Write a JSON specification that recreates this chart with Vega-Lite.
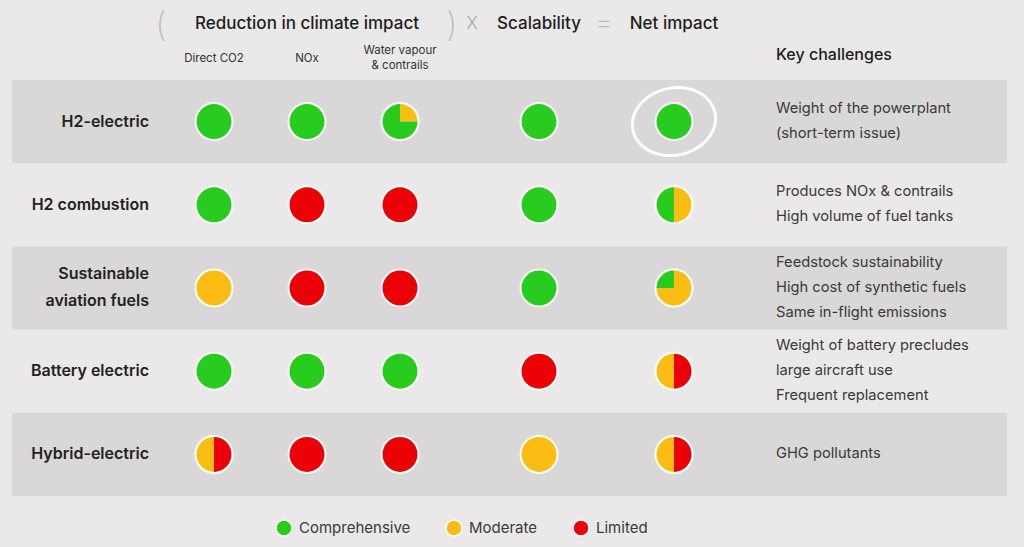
{
  "$schema": "https://vega.github.io/schema/vega-lite/v6.json",
  "width": 1024,
  "height": 547,
  "autosize": {"type": "none"},
  "padding": 0,
  "background": "#eae8e8",
  "config": {
    "view": {"stroke": null},
    "font": "Inter",
    "legend": {
      "orient": "none",
      "legendX": 275,
      "legendY": 519,
      "direction": "horizontal",
      "symbolType": "circle",
      "symbolSize": 256,
      "symbolStrokeColor": "#ffffff",
      "symbolStrokeWidth": 1.5,
      "symbolOpacity": 1,
      "labelFontSize": 15,
      "labelColor": "#3a3a3a",
      "labelFont": "Inter",
      "labelOffset": 6,
      "columnPadding": 32,
      "padding": 0
    }
  },
  "datasets": {
    "bands": [
      {"tech": "H2-electric"},
      {"tech": "Sustainable aviation fuels"},
      {"tech": "Hybrid-electric"}
    ],
    "techs": [
      {"tech": "H2-electric", "label": "H2-electric", "challenges": "Weight of the powerplant\n(short-term issue)"},
      {"tech": "H2 combustion", "label": "H2 combustion", "challenges": "Produces NOx & contrails\nHigh volume of fuel tanks"},
      {"tech": "Sustainable aviation fuels", "label": "Sustainable\naviation fuels", "challenges": "Feedstock sustainability\nHigh cost of synthetic fuels\nSame in-flight emissions"},
      {"tech": "Battery electric", "label": "Battery electric", "challenges": "Weight of battery precludes\nlarge aircraft use\nFrequent replacement"},
      {"tech": "Hybrid-electric", "label": "Hybrid-electric", "challenges": "GHG pollutants"}
    ],
    "cells": [
      {"tech": "H2-electric", "col": 1, "level": "Comprehensive", "start": 0, "end": 1},
      {"tech": "H2-electric", "col": 2, "level": "Comprehensive", "start": 0, "end": 1},
      {"tech": "H2-electric", "col": 3, "level": "Moderate", "start": 0, "end": 0.25},
      {"tech": "H2-electric", "col": 3, "level": "Comprehensive", "start": 0.25, "end": 1},
      {"tech": "H2-electric", "col": 5, "level": "Comprehensive", "start": 0, "end": 1},
      {"tech": "H2-electric", "col": 7, "level": "Comprehensive", "start": 0, "end": 1},
      {"tech": "H2 combustion", "col": 1, "level": "Comprehensive", "start": 0, "end": 1},
      {"tech": "H2 combustion", "col": 2, "level": "Limited", "start": 0, "end": 1},
      {"tech": "H2 combustion", "col": 3, "level": "Limited", "start": 0, "end": 1},
      {"tech": "H2 combustion", "col": 5, "level": "Comprehensive", "start": 0, "end": 1},
      {"tech": "H2 combustion", "col": 7, "level": "Moderate", "start": 0, "end": 0.5},
      {"tech": "H2 combustion", "col": 7, "level": "Comprehensive", "start": 0.5, "end": 1},
      {"tech": "Sustainable aviation fuels", "col": 1, "level": "Moderate", "start": 0, "end": 1},
      {"tech": "Sustainable aviation fuels", "col": 2, "level": "Limited", "start": 0, "end": 1},
      {"tech": "Sustainable aviation fuels", "col": 3, "level": "Limited", "start": 0, "end": 1},
      {"tech": "Sustainable aviation fuels", "col": 5, "level": "Comprehensive", "start": 0, "end": 1},
      {"tech": "Sustainable aviation fuels", "col": 7, "level": "Moderate", "start": 0, "end": 0.75},
      {"tech": "Sustainable aviation fuels", "col": 7, "level": "Comprehensive", "start": 0.75, "end": 1},
      {"tech": "Battery electric", "col": 1, "level": "Comprehensive", "start": 0, "end": 1},
      {"tech": "Battery electric", "col": 2, "level": "Comprehensive", "start": 0, "end": 1},
      {"tech": "Battery electric", "col": 3, "level": "Comprehensive", "start": 0, "end": 1},
      {"tech": "Battery electric", "col": 5, "level": "Limited", "start": 0, "end": 1},
      {"tech": "Battery electric", "col": 7, "level": "Limited", "start": 0, "end": 0.5},
      {"tech": "Battery electric", "col": 7, "level": "Moderate", "start": 0.5, "end": 1},
      {"tech": "Hybrid-electric", "col": 1, "level": "Limited", "start": 0, "end": 0.5},
      {"tech": "Hybrid-electric", "col": 1, "level": "Moderate", "start": 0.5, "end": 1},
      {"tech": "Hybrid-electric", "col": 2, "level": "Limited", "start": 0, "end": 1},
      {"tech": "Hybrid-electric", "col": 3, "level": "Limited", "start": 0, "end": 1},
      {"tech": "Hybrid-electric", "col": 5, "level": "Moderate", "start": 0, "end": 1},
      {"tech": "Hybrid-electric", "col": 7, "level": "Limited", "start": 0, "end": 0.5},
      {"tech": "Hybrid-electric", "col": 7, "level": "Moderate", "start": 0.5, "end": 1}
    ],
    "highlight": [{"tech": "H2-electric", "col": 7}],
    "titles": [
      {"text": "Reduction in climate impact", "col": 2, "tier": "title"},
      {"text": "Scalability", "col": 5, "tier": "title"},
      {"text": "Net impact", "col": 7, "tier": "title"}
    ],
    "ops": [
      {"text": "X", "col": 4, "tier": "title", "op": "times"},
      {"text": "=", "col": 6, "tier": "title", "op": "equals"}
    ],
    "parens": [
      {"text": "(", "col": 1, "tier": "title", "side": "open"},
      {"text": ")", "col": 3, "tier": "title", "side": "close"}
    ],
    "subs": [
      {"text": "Direct CO2", "col": 1, "tier": "sub"},
      {"text": "NOx", "col": 2, "tier": "sub"},
      {"text": "Water vapour\n& contrails", "col": 3, "tier": "sub"}
    ],
    "keyhead": [{"text": "Key challenges", "col": 8, "tier": "sub"}]
  },
  "layer": [
    {
      "layer": [
        {
          "data": {"name": "bands"},
          "mark": {"type": "rect", "color": "#d9d7d7"},
          "encoding": {
            "x": {"datum": -1, "type": "quantitative", "axis": null, "scale": {"type": "linear", "domain": [-1, 0, 1, 2, 3, 4, 5, 6, 7, 8, 9], "range": [12, 149, 214, 307, 400, 472, 539, 604, 674, 776, 1007], "nice": false, "zero": false}},
            "x2": {"datum": 9},
            "y": {"field": "tech", "type": "nominal", "axis": null, "sort": null, "scale": {"type": "band", "domain": ["H2-electric", "H2 combustion", "Sustainable aviation fuels", "Battery electric", "Hybrid-electric"], "range": [80, 496], "paddingInner": 0, "paddingOuter": 0}}
          }
        },
        {
          "data": {"name": "techs"},
          "transform": [{"filter": {"field": "tech", "oneOf": ["H2-electric", "H2 combustion", "Battery electric", "Hybrid-electric"]}}],
          "mark": {"type": "text", "align": "right", "baseline": "middle", "fontSize": 16, "fontWeight": 600, "color": "#222222", "lineBreak": "\n", "lineHeight": 27},
          "encoding": {
            "x": {"datum": 0, "type": "quantitative", "axis": null, "scale": {"type": "linear", "domain": [-1, 0, 1, 2, 3, 4, 5, 6, 7, 8, 9], "range": [12, 149, 214, 307, 400, 472, 539, 604, 674, 776, 1007], "nice": false, "zero": false}},
            "y": {"field": "tech", "type": "nominal", "axis": null, "sort": null, "scale": {"type": "band", "domain": ["H2-electric", "H2 combustion", "Sustainable aviation fuels", "Battery electric", "Hybrid-electric"], "range": [80, 496], "paddingInner": 0, "paddingOuter": 0}},
            "text": {"field": "label"}
          }
        },
        {
          "data": {"name": "techs"},
          "transform": [{"filter": {"field": "tech", "oneOf": ["Sustainable aviation fuels"]}}],
          "mark": {"type": "text", "align": "right", "baseline": "middle", "fontSize": 16, "fontWeight": 600, "color": "#222222", "lineBreak": "\n", "lineHeight": 27, "dy": -14},
          "encoding": {
            "x": {"datum": 0, "type": "quantitative", "axis": null, "scale": {"type": "linear", "domain": [-1, 0, 1, 2, 3, 4, 5, 6, 7, 8, 9], "range": [12, 149, 214, 307, 400, 472, 539, 604, 674, 776, 1007], "nice": false, "zero": false}},
            "y": {"field": "tech", "type": "nominal", "axis": null, "sort": null, "scale": {"type": "band", "domain": ["H2-electric", "H2 combustion", "Sustainable aviation fuels", "Battery electric", "Hybrid-electric"], "range": [80, 496], "paddingInner": 0, "paddingOuter": 0}},
            "text": {"field": "label"}
          }
        },
        {
          "data": {"name": "techs"},
          "transform": [{"filter": {"field": "tech", "oneOf": ["H2-electric", "H2 combustion"]}}],
          "mark": {"type": "text", "align": "left", "baseline": "middle", "fontSize": 14.7, "fontWeight": 400, "color": "#3a3a3a", "lineBreak": "\n", "lineHeight": 25, "dy": -13},
          "encoding": {
            "x": {"datum": 8, "type": "quantitative", "axis": null, "scale": {"type": "linear", "domain": [-1, 0, 1, 2, 3, 4, 5, 6, 7, 8, 9], "range": [12, 149, 214, 307, 400, 472, 539, 604, 674, 776, 1007], "nice": false, "zero": false}},
            "y": {"field": "tech", "type": "nominal", "axis": null, "sort": null, "scale": {"type": "band", "domain": ["H2-electric", "H2 combustion", "Sustainable aviation fuels", "Battery electric", "Hybrid-electric"], "range": [80, 496], "paddingInner": 0, "paddingOuter": 0}},
            "text": {"field": "challenges"}
          }
        },
        {
          "data": {"name": "techs"},
          "transform": [{"filter": {"field": "tech", "oneOf": ["Sustainable aviation fuels", "Battery electric"]}}],
          "mark": {"type": "text", "align": "left", "baseline": "middle", "fontSize": 14.7, "fontWeight": 400, "color": "#3a3a3a", "lineBreak": "\n", "lineHeight": 25, "dy": -25},
          "encoding": {
            "x": {"datum": 8, "type": "quantitative", "axis": null, "scale": {"type": "linear", "domain": [-1, 0, 1, 2, 3, 4, 5, 6, 7, 8, 9], "range": [12, 149, 214, 307, 400, 472, 539, 604, 674, 776, 1007], "nice": false, "zero": false}},
            "y": {"field": "tech", "type": "nominal", "axis": null, "sort": null, "scale": {"type": "band", "domain": ["H2-electric", "H2 combustion", "Sustainable aviation fuels", "Battery electric", "Hybrid-electric"], "range": [80, 496], "paddingInner": 0, "paddingOuter": 0}},
            "text": {"field": "challenges"}
          }
        },
        {
          "data": {"name": "techs"},
          "transform": [{"filter": {"field": "tech", "oneOf": ["Hybrid-electric"]}}],
          "mark": {"type": "text", "align": "left", "baseline": "middle", "fontSize": 14.7, "fontWeight": 400, "color": "#3a3a3a", "lineBreak": "\n", "lineHeight": 25},
          "encoding": {
            "x": {"datum": 8, "type": "quantitative", "axis": null, "scale": {"type": "linear", "domain": [-1, 0, 1, 2, 3, 4, 5, 6, 7, 8, 9], "range": [12, 149, 214, 307, 400, 472, 539, 604, 674, 776, 1007], "nice": false, "zero": false}},
            "y": {"field": "tech", "type": "nominal", "axis": null, "sort": null, "scale": {"type": "band", "domain": ["H2-electric", "H2 combustion", "Sustainable aviation fuels", "Battery electric", "Hybrid-electric"], "range": [80, 496], "paddingInner": 0, "paddingOuter": 0}},
            "text": {"field": "challenges"}
          }
        },
        {
          "data": {"name": "cells"},
          "mark": {"type": "point", "shape": "circle", "filled": true, "color": "#fbfff8", "opacity": 1, "size": 1521},
          "encoding": {
            "x": {"field": "col", "type": "quantitative", "axis": null, "scale": {"type": "linear", "domain": [-1, 0, 1, 2, 3, 4, 5, 6, 7, 8, 9], "range": [12, 149, 214, 307, 400, 472, 539, 604, 674, 776, 1007], "nice": false, "zero": false}},
            "y": {"field": "tech", "type": "nominal", "axis": null, "sort": null, "scale": {"type": "band", "domain": ["H2-electric", "H2 combustion", "Sustainable aviation fuels", "Battery electric", "Hybrid-electric"], "range": [80, 496], "paddingInner": 0, "paddingOuter": 0}}
          }
        },
        {
          "data": {"name": "cells"},
          "mark": {"type": "arc", "radius": 17.5, "stroke": null},
          "encoding": {
            "x": {"field": "col", "type": "quantitative", "stack": null, "axis": null, "scale": {"type": "linear", "domain": [-1, 0, 1, 2, 3, 4, 5, 6, 7, 8, 9], "range": [12, 149, 214, 307, 400, 472, 539, 604, 674, 776, 1007], "nice": false, "zero": false}},
            "y": {"field": "tech", "type": "nominal", "axis": null, "sort": null, "scale": {"type": "band", "domain": ["H2-electric", "H2 combustion", "Sustainable aviation fuels", "Battery electric", "Hybrid-electric"], "range": [80, 496], "paddingInner": 0, "paddingOuter": 0}},
            "theta": {"field": "start", "type": "quantitative", "stack": null, "scale": {"domain": [0, 1], "range": [0, 6.283185307], "zero": false, "nice": false}},
            "theta2": {"field": "end"},
            "color": {"field": "level", "type": "nominal", "title": null, "scale": {"domain": ["Comprehensive", "Moderate", "Limited"], "range": ["#27cc1f", "#fbbd14", "#ec0008"]}}
          }
        },
        {
          "data": {"name": "highlight"},
          "mark": {"type": "point", "shape": "M -0.976 -0.072 A 1 0.8 -12 0 1 0.934 -0.341 A 1 0.8 -12 1 1 -0.757 -0.466", "filled": false, "stroke": "#ffffff", "strokeWidth": 3, "strokeCap": "round", "opacity": 1, "size": 7056},
          "encoding": {
            "x": {"field": "col", "type": "quantitative", "axis": null, "scale": {"type": "linear", "domain": [-1, 0, 1, 2, 3, 4, 5, 6, 7, 8, 9], "range": [12, 149, 214, 307, 400, 472, 539, 604, 674, 776, 1007], "nice": false, "zero": false}},
            "y": {"field": "tech", "type": "nominal", "axis": null, "sort": null, "scale": {"type": "band", "domain": ["H2-electric", "H2 combustion", "Sustainable aviation fuels", "Battery electric", "Hybrid-electric"], "range": [80, 496], "paddingInner": 0, "paddingOuter": 0}}
          }
        }
      ]
    },
    {
      "layer": [
        {
          "data": {"name": "titles"},
          "mark": {"type": "text", "align": "center", "baseline": "middle", "fontSize": 17, "fontWeight": 500, "color": "#1e1e1e"},
          "encoding": {
            "x": {"field": "col", "type": "quantitative", "axis": null, "scale": {"type": "linear", "domain": [-1, 0, 1, 2, 3, 4, 5, 6, 7, 8, 9], "range": [12, 149, 214, 307, 400, 472, 539, 604, 674, 776, 1007], "nice": false, "zero": false}},
            "y": {"field": "tier", "type": "nominal", "axis": null, "sort": null, "scale": {"type": "point", "domain": ["title", "sub"], "range": [24, 59], "padding": 0}},
            "text": {"field": "text"}
          }
        },
        {
          "data": {"name": "ops"},
          "transform": [{"filter": {"field": "op", "equal": "times"}}],
          "mark": {"type": "text", "align": "center", "baseline": "middle", "fontSize": 17, "fontWeight": 300, "color": "#a9a9a9"},
          "encoding": {
            "x": {"field": "col", "type": "quantitative", "axis": null, "scale": {"type": "linear", "domain": [-1, 0, 1, 2, 3, 4, 5, 6, 7, 8, 9], "range": [12, 149, 214, 307, 400, 472, 539, 604, 674, 776, 1007], "nice": false, "zero": false}},
            "y": {"field": "tier", "type": "nominal", "axis": null, "sort": null, "scale": {"type": "point", "domain": ["title", "sub"], "range": [24, 59], "padding": 0}},
            "text": {"field": "text"}
          }
        },
        {
          "data": {"name": "ops"},
          "transform": [{"filter": {"field": "op", "equal": "equals"}}],
          "mark": {"type": "text", "align": "center", "baseline": "middle", "fontSize": 28, "fontWeight": 200, "color": "#bbbbbb"},
          "encoding": {
            "x": {"field": "col", "type": "quantitative", "axis": null, "scale": {"type": "linear", "domain": [-1, 0, 1, 2, 3, 4, 5, 6, 7, 8, 9], "range": [12, 149, 214, 307, 400, 472, 539, 604, 674, 776, 1007], "nice": false, "zero": false}},
            "y": {"field": "tier", "type": "nominal", "axis": null, "sort": null, "scale": {"type": "point", "domain": ["title", "sub"], "range": [24, 59], "padding": 0}},
            "text": {"field": "text"}
          }
        },
        {
          "data": {"name": "parens"},
          "transform": [{"filter": {"field": "side", "equal": "open"}}],
          "mark": {"type": "text", "align": "center", "baseline": "middle", "fontSize": 34, "fontWeight": 200, "color": "#bdbdbd", "dx": -53, "dy": 2},
          "encoding": {
            "x": {"field": "col", "type": "quantitative", "axis": null, "scale": {"type": "linear", "domain": [-1, 0, 1, 2, 3, 4, 5, 6, 7, 8, 9], "range": [12, 149, 214, 307, 400, 472, 539, 604, 674, 776, 1007], "nice": false, "zero": false}},
            "y": {"field": "tier", "type": "nominal", "axis": null, "sort": null, "scale": {"type": "point", "domain": ["title", "sub"], "range": [24, 59], "padding": 0}},
            "text": {"field": "text"}
          }
        },
        {
          "data": {"name": "parens"},
          "transform": [{"filter": {"field": "side", "equal": "close"}}],
          "mark": {"type": "text", "align": "center", "baseline": "middle", "fontSize": 34, "fontWeight": 200, "color": "#bdbdbd", "dx": 52, "dy": 2},
          "encoding": {
            "x": {"field": "col", "type": "quantitative", "axis": null, "scale": {"type": "linear", "domain": [-1, 0, 1, 2, 3, 4, 5, 6, 7, 8, 9], "range": [12, 149, 214, 307, 400, 472, 539, 604, 674, 776, 1007], "nice": false, "zero": false}},
            "y": {"field": "tier", "type": "nominal", "axis": null, "sort": null, "scale": {"type": "point", "domain": ["title", "sub"], "range": [24, 59], "padding": 0}},
            "text": {"field": "text"}
          }
        },
        {
          "data": {"name": "subs"},
          "transform": [{"filter": {"field": "col", "oneOf": [1, 2]}}],
          "mark": {"type": "text", "align": "center", "baseline": "middle", "fontSize": 11.5, "fontWeight": 400, "color": "#333333"},
          "encoding": {
            "x": {"field": "col", "type": "quantitative", "axis": null, "scale": {"type": "linear", "domain": [-1, 0, 1, 2, 3, 4, 5, 6, 7, 8, 9], "range": [12, 149, 214, 307, 400, 472, 539, 604, 674, 776, 1007], "nice": false, "zero": false}},
            "y": {"field": "tier", "type": "nominal", "axis": null, "sort": null, "scale": {"type": "point", "domain": ["title", "sub"], "range": [24, 59], "padding": 0}},
            "text": {"field": "text"}
          }
        },
        {
          "data": {"name": "subs"},
          "transform": [{"filter": {"field": "col", "oneOf": [3]}}],
          "mark": {"type": "text", "align": "center", "baseline": "middle", "fontSize": 11.5, "fontWeight": 400, "color": "#333333", "lineBreak": "\n", "lineHeight": 15, "dy": -8},
          "encoding": {
            "x": {"field": "col", "type": "quantitative", "axis": null, "scale": {"type": "linear", "domain": [-1, 0, 1, 2, 3, 4, 5, 6, 7, 8, 9], "range": [12, 149, 214, 307, 400, 472, 539, 604, 674, 776, 1007], "nice": false, "zero": false}},
            "y": {"field": "tier", "type": "nominal", "axis": null, "sort": null, "scale": {"type": "point", "domain": ["title", "sub"], "range": [24, 59], "padding": 0}},
            "text": {"field": "text"}
          }
        },
        {
          "data": {"name": "keyhead"},
          "mark": {"type": "text", "align": "left", "baseline": "middle", "fontSize": 16, "fontWeight": 500, "color": "#1e1e1e", "dy": -4},
          "encoding": {
            "x": {"field": "col", "type": "quantitative", "axis": null, "scale": {"type": "linear", "domain": [-1, 0, 1, 2, 3, 4, 5, 6, 7, 8, 9], "range": [12, 149, 214, 307, 400, 472, 539, 604, 674, 776, 1007], "nice": false, "zero": false}},
            "y": {"field": "tier", "type": "nominal", "axis": null, "sort": null, "scale": {"type": "point", "domain": ["title", "sub"], "range": [24, 59], "padding": 0}},
            "text": {"field": "text"}
          }
        }
      ]
    }
  ],
  "resolve": {"scale": {"y": "independent"}}
}
